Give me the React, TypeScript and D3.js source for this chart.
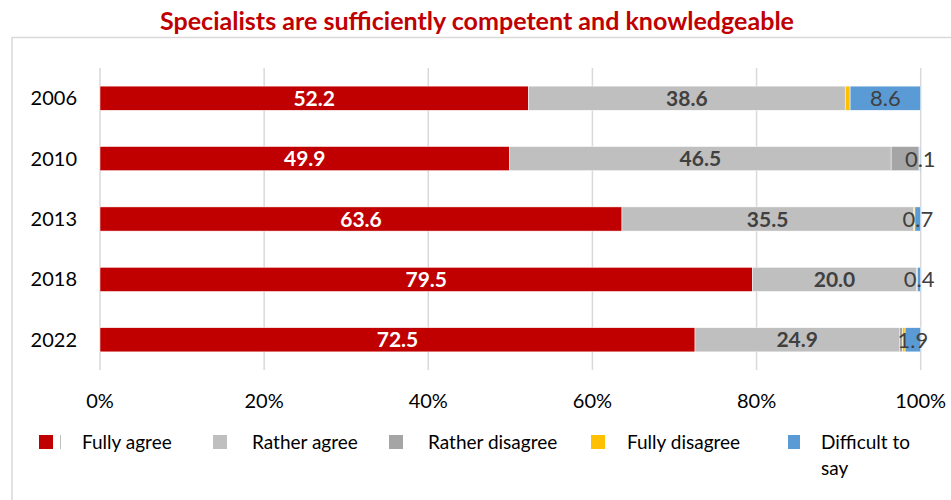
import React from "react";
import * as d3 from "d3";

const years = ["2006", "2010", "2013", "2018", "2022"];
const seriesNames = ["Fully agree", "Rather agree", "Rather disagree", "Fully disagree", "Difficult to say"];
const fullyAgree = [52.2, 49.9, 63.6, 79.5, 72.5];
const ratherAgree = [38.6, 46.5, 35.5, 20.0, 24.9];
const ratherDisagree = [0, 3.4, 0.1, 0.1, 0.4];
const fullyDisagree = [0.6, 0.1, 0.1, 0, 0.3];
const difficult = [8.6, 0.1, 0.7, 0.4, 1.9];
const xTicks = [0, 20, 40, 60, 80, 100];
const colors = ["#C00000", "#BFBFBF", "#A5A5A5", "#FFC000", "#5B9BD5"];

const W = 951;
const H = 500;
const FONT = "Lato, 'Open Sans', sans-serif";

export default function App() {
  const x = d3.scaleLinear().domain([0, 100]).range([100, 920.7]);
  const y = d3.scaleBand().domain(years).range([68, 370]).paddingInner(0.6).paddingOuter(0.3);

  const rows = years.map((yr, i) => ({
    year: yr,
    v: [fullyAgree[i], ratherAgree[i], ratherDisagree[i], fullyDisagree[i], difficult[i]],
  }));
  const stackData = rows.map((r) => {
    const o: any = { year: r.year };
    seriesNames.forEach((s, k) => (o[s] = r.v[k]));
    return o;
  });
  const stacked = d3.stack<any>().keys(seriesNames)(stackData);

  const legendX = [39, 213, 389, 591, 788];
  const legendTextX = [82, 252, 428, 627, 821];

  return (
    <svg width={W} height={H} style={{ position: "absolute", left: 0, top: 0 }}>
      <rect x={0} y={0} width={W} height={H} fill="#fff" />
      <path d={`M12,${H + 2} V37.5 H${W + 2}`} fill="none" stroke="#D9D9D9" strokeWidth={1.5} />
      <text x={477} y={30} textAnchor="middle" fontFamily={FONT} fontWeight="bold" fontSize={24} fill="#C00000" textLength={634} lengthAdjust="spacingAndGlyphs">
        Specialists are sufficiently competent and knowledgeable
      </text>
      {xTicks.map((t) => (
        <g key={t}>
          <line x1={x(t)} x2={x(t)} y1={68} y2={370} stroke="#D9D9D9" strokeWidth={1.5} />
          <text x={x(t)} y={408} textAnchor="middle" fontFamily={FONT} fontSize={20} fill="#000">
            {t}%
          </text>
        </g>
      ))}
      {years.map((yr) => (
        <text key={yr} x={77} y={(y(yr) as number) + y.bandwidth() / 2 + 7} textAnchor="end" fontFamily={FONT} fontSize={20} fill="#000">
          {yr}
        </text>
      ))}
      {stacked.map((layer, k) => (
        <g key={k}>
          {layer.map((d: any, i: number) => {
            const w = x(d[1]) - x(d[0]);
            if (w <= 0) return null;
            return (
              <rect
                key={i}
                x={x(d[0])}
                y={y(d.data.year) as number}
                width={w}
                height={y.bandwidth()}
                fill={colors[k]}
                stroke="#fff"
                strokeWidth={0.5}
              />
            );
          })}
        </g>
      ))}
      {stacked.map((layer, k) => {
        if (k === 2 || k === 3) return null;
        return (
          <g key={"l" + k}>
            {layer.map((d: any, i: number) => {
              const cx = (x(d[0]) + x(d[1])) / 2;
              const cy = (y(d.data.year) as number) + y.bandwidth() / 2;
              const val = d[1] - d[0];
              const label = val.toFixed(1);
              if (k === 0)
                return (
                  <text key={i} x={cx} y={cy + 7.5} textAnchor="middle" fontFamily={FONT} fontWeight="bold" fontSize={21} fill="#fff">
                    {label}
                  </text>
                );
              if (k === 1)
                return (
                  <text key={i} x={cx} y={cy + 7.5} textAnchor="middle" fontFamily={FONT} fontWeight="bold" fontSize={21} fill="#404040">
                    {label}
                  </text>
                );
              return (
                <text key={i} x={cx} y={cy + 8} textAnchor="middle" fontFamily={FONT} fontSize={22} fill="#404040">
                  {label}
                </text>
              );
            })}
          </g>
        );
      })}
      {seriesNames.map((s, k) => (
        <g key={"lg" + k}>
          <rect x={legendX[k]} y={435} width={k === 4 ? 12 : 14} height={14} fill={colors[k]} />
          {k === 0 && <line x1={60.5} x2={60.5} y1={435} y2={449} stroke="#BFBFBF" strokeWidth={1} />}
          {k === 4 ? (
            <text fontFamily={FONT} fontSize={19} fill="#000">
              <tspan x={legendTextX[k]} y={449}>Difficult to</tspan>
              <tspan x={legendTextX[k]} y={475}>say</tspan>
            </text>
          ) : (
            <text x={legendTextX[k]} y={449} fontFamily={FONT} fontSize={19} fill="#000">
              {s}
            </text>
          )}
        </g>
      ))}
    </svg>
  );
}
